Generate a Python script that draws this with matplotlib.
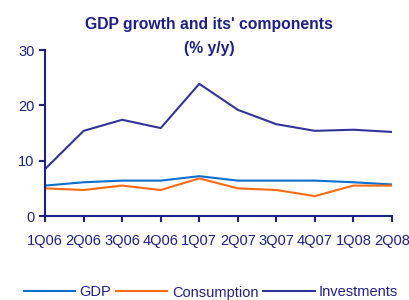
import matplotlib.pyplot as plt

plt.rcParams["font.family"] = ["Liberation Sans", "DejaVu Sans"]

quarters = ["1Q06", "2Q06", "3Q06", "4Q06", "1Q07", "2Q07", "3Q07", "4Q07", "1Q08", "2Q08"]
gdp = [5.5, 6.1, 6.4, 6.4, 7.2, 6.4, 6.4, 6.4, 6.1, 5.7]
consumption = [5.0, 4.7, 5.5, 4.7, 6.8, 5.0, 4.7, 3.6, 5.5, 5.5]
investments = [8.5, 15.4, 17.4, 15.9, 23.9, 19.2, 16.6, 15.4, 15.6, 15.2]

navy = "#1F1F8C"

fig = plt.figure(figsize=(4.1, 3.0), dpi=100)
ax = fig.add_axes([0.110, 0.28, 0.846, 0.553])

x = range(len(quarters))
ax.plot(x, gdp, color="#0A6FD0", lw=1.5, label="GDP")
ax.plot(x, consumption, color="#FF6A10", lw=1.5, label="Consumption")
ax.plot(x, investments, color="#333399", lw=1.5, label="Investments")

ax.set_xlim(0, len(quarters) - 1)
ax.set_ylim(0, 30)
ax.set_yticks([0, 10, 20, 30])
ax.set_xticks(list(x))
ax.set_xticklabels(quarters)

for s in ["top", "right"]:
    ax.spines[s].set_visible(False)
for s in ["left", "bottom"]:
    ax.spines[s].set_color(navy)
    ax.spines[s].set_linewidth(1.5)
ax.tick_params(colors=navy, labelsize=10.5, width=1.5, length=4, direction="out")
ax.tick_params(axis="x", pad=9)

fig.text(0.51, 0.917, "GDP growth and its' components", ha="center", va="center",
         fontsize=11.3, fontweight="bold", color=navy)
fig.text(0.51, 0.84, "(% y/y)", ha="center", va="center",
         fontsize=11.3, fontweight="bold", color=navy)

fig.legend(loc="center", bbox_to_anchor=(0.515, 0.025), ncol=3, frameon=False,
           fontsize=10.5, labelcolor=navy, handlelength=3.5, handletextpad=0.3,
           columnspacing=0.35)

fig.savefig("out.png", dpi=100)
